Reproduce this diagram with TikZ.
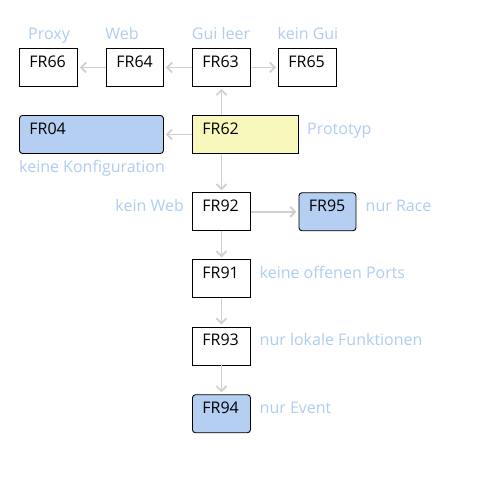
\documentclass[tikz,border=0pt]{standalone}
\usepackage{fontspec}
\setmainfont{Open Sans}
\usetikzlibrary{arrows.meta}

\definecolor{linkgray}{RGB}{208,208,208}
\definecolor{notegray}{RGB}{176,204,242}
\definecolor{reqblue}{RGB}{180,207,242}
\definecolor{reqyellow}{RGB}{248,248,188}

\tikzset{
	frbox/.style={draw, line width=0.9pt, anchor=north west, inner xsep=10pt, inner ysep=0pt,
		text height=19pt, text depth=19pt, align=left, font=\fontsize{16}{18}\selectfont},
	frround/.style={frbox, rounded corners=3pt, fill=reqblue},
	note/.style={text=notegray, inner sep=0pt, font=\fontsize{16}{18}\selectfont},
	link/.style={draw=linkgray, line width=1.8pt, -{Straight Barb[length=5pt,width=10pt]}, shorten >=2pt}
}

\begin{document}
\begin{tikzpicture}[x=1pt,y=-1pt]
	
	\useasboundingbox (0,0) rectangle (480,480);
	
	% top row
	\node[frbox, text width=38pt] (fr66) at (19,48) {FR66};
	\node[frbox, text width=37pt] (fr64) at (106,48) {FR64};
	\node[frbox, text width=38pt] (fr63) at (192,48) {FR63};
	\node[frbox, text width=38pt] (fr65) at (278,48) {FR65};
	
	\node[note, anchor=base] (proxy) at (49,39.5) {Proxy};
	\node[note, anchor=base] (web) at (122,39.5) {Web};
	\node[note, anchor=base] (guileer) at (221,39.5) {Gui leer};
	\node[note, anchor=base] (keingui) at (308,39.5) {kein Gui};
	
	% prototype row
	\node[frround, text width=124pt] (fr04) at (19,115) {FR04};
	\node[frbox, text width=86pt, fill=reqyellow] (fr62) at (192,115) {FR62};
	
	\node[note, anchor=base west] (prototyp) at (307,134.3) {Prototyp};
	\node[note, anchor=base west] (keinekonf) at (19,172.3) {keine Konfiguration};
	
	% column below
	\node[frbox, text width=38pt] (fr92) at (192,192.3) {FR92};
	\node[frround, text width=37pt] (fr95) at (298.5,192.3) {FR95};
	\node[frbox, text width=38pt] (fr91) at (192,259.3) {FR91};
	\node[frbox, text width=38pt] (fr93) at (192,326.5) {FR93};
	\node[frround, text width=38pt] (fr94) at (192,394.3) {FR94};
	
	\node[note, anchor=base east] (keinweb) at (184,211.3) {kein Web};
	\node[note, anchor=base west] (nurrace) at (365.5,211.3) {nur Race};
	\node[note, anchor=base west] (offeneports) at (259.5,278.3) {keine offenen Ports};
	\node[note, anchor=base west] (lokal) at (259.5,345.5) {nur lokale Funktionen};
	\node[note, anchor=base west] (nurevent) at (259.5,413.3) {nur Event};
	
	% connectors
	\draw[link] (fr63) -- (fr64);
	\draw[link] (fr64) -- (fr66);
	\draw[link] (fr63) -- (fr65);
	\draw[link] (fr62.north -| fr63) -- (fr63);
	\draw[link] (fr62) -- (fr04);
	\draw[link] (fr62.south -| fr92) -- (fr92);
	\draw[link] (fr92) -- (fr95);
	\draw[link] (fr92) -- (fr91);
	\draw[link] (fr91) -- (fr93);
	\draw[link] (fr93) -- (fr94);
	
\end{tikzpicture}
\end{document}
